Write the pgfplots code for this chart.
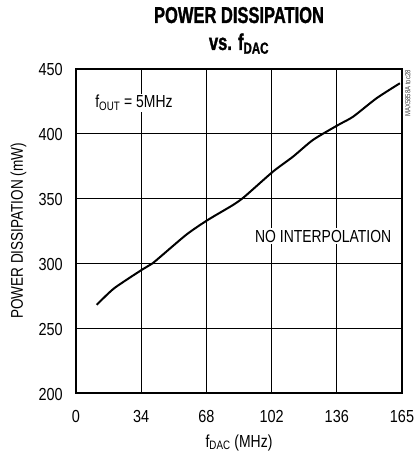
\documentclass[border=0pt]{standalone}
\usepackage{pgfplots}
\pgfplotsset{compat=1.18}
\usepackage{fontspec}
\setmainfont{Liberation Sans}[FakeStretch=0.80]
\newfontfamily\tickfont{Liberation Sans}[FakeStretch=0.83]
\newfontfamily\titlefont{Liberation Sans Bold}[FakeStretch=0.72, FakeBold=1.2]
\begin{document}
\begin{tikzpicture}[x=1bp,y=1bp]
\useasboundingbox (-76,-64) rectangle (340,393);
\begin{axis}[
  at={(0,0)}, anchor=south west,
  scale only axis, width=326bp, height=324bp,
  xmin=0, xmax=170, ymin=200, ymax=450,
  xtick={0,34,68,102,136,170},
  xticklabels={0,34,68,102,136,165},
  ytick={200,250,300,350,400,450},
  grid=major,
  major grid style={black, line width=0.8bp},
  major tick length=0pt,
  axis line style={black, line width=2.2bp},
  tick label style={font=\tickfont\fontsize{17.5}{20}\selectfont},
  /pgf/number format/assume math mode=true,
  xticklabel style={anchor=base, inner sep=0pt, yshift=-29bp},
  yticklabel style={anchor=east, inner sep=0pt, xshift=-13bp, yshift=-1bp},
  clip=false,
]
\addplot[black, line width=2bp, smooth, tension=0.4] coordinates {
(10.8,268) (19.9,280.8) (34.7,295.4) (39.9,300) (57.4,322) (68.7,333.5)
(81.8,345) (87.9,351.5) (102.7,370.8) (113.2,382.4) (123.6,395.3)
(136.7,406.8) (144.5,413.2) (156.7,427.4) (168.9,439)
};
\node[fill=white, inner sep=1.5bp, anchor=base west, font=\fontsize{17.5}{20}\selectfont] at (axis cs:9.2,420) {f\textsubscript{OUT} = 5MHz};
\node[fill=white, inner sep=1.5bp, anchor=base west, font=\fontsize{17.5}{20}\selectfont] at (axis cs:92.5,316.5) {NO INTERPOLATION};
\node[rotate=90, anchor=north east, inner sep=0pt, text=black!75, font=\fontsize{7.5}{8}\selectfont] at ([xshift=3bp,yshift=-1bp]rel axis cs:1,1) {MAX5858A toc28};
\node[font=\fontsize{17.5}{20}\selectfont, anchor=base] at ([yshift=-54bp]rel axis cs:0.5,0) {f\textsubscript{DAC} (MHz)};
\node[font=\fontsize{17}{20}\selectfont, rotate=90, anchor=center] at ([xshift=-57.5bp]rel axis cs:0,0.5) {POWER DISSIPATION (mW)};
\node[font=\titlefont\fontsize{23}{27}\selectfont, anchor=base] at ([yshift=46bp]rel axis cs:0.5,1) {POWER DISSIPATION};
\node[font=\titlefont\fontsize{23}{27}\selectfont, anchor=base] at ([yshift=19bp]rel axis cs:0.5,1) {vs. f\textsubscript{DAC}};
\end{axis}
\end{tikzpicture}
\end{document}
